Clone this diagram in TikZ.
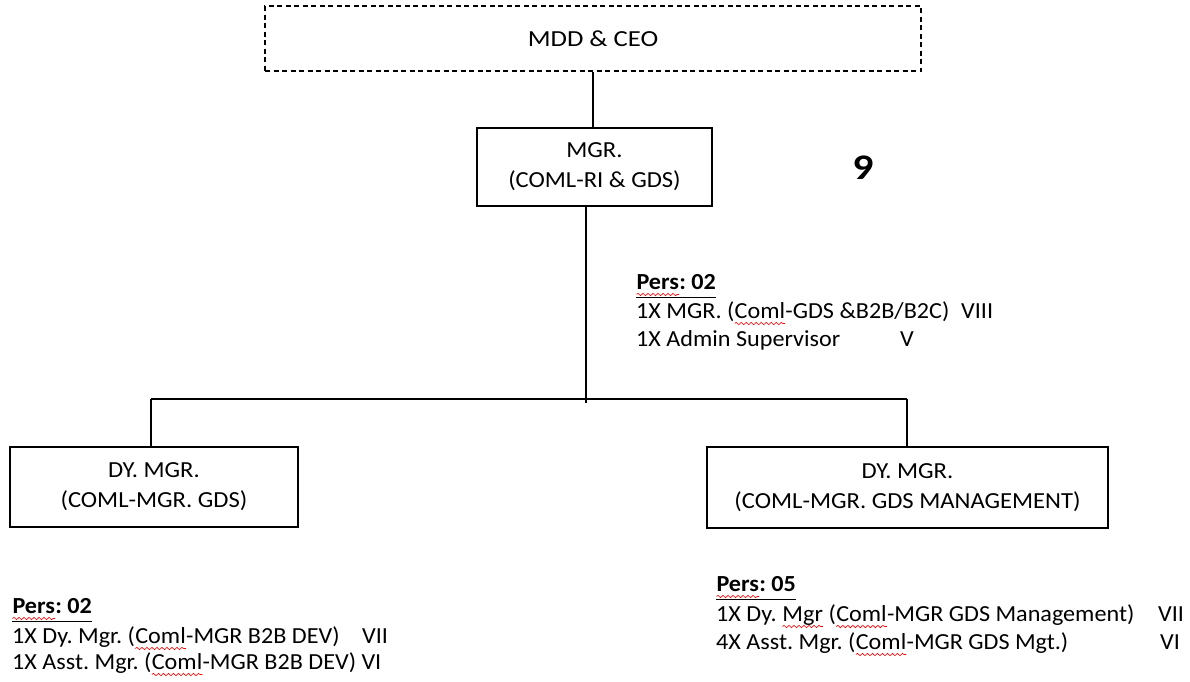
\documentclass[tikz,border=0pt]{standalone}
\usepackage{fontspec}
\setmainfont{Carlito}[FakeStretch=1.05]
\newfontfamily\boxfont{Carlito}[FakeStretch=1.07]
\newfontfamily\widefont{Carlito}[FakeStretch=1.16]
\usetikzlibrary{decorations.pathmorphing}
\frenchspacing
\newcommand\spellerr[1]{\tikz[baseline=(w.base)]{\node[inner sep=0pt, outer sep=0pt] (w) {#1};
  \draw[red, line width=0.6pt, decorate, decoration={snake, amplitude=1.2pt, segment length=5pt}] ([yshift=-5.5pt]w.base west) -- ([yshift=-5.5pt]w.base east);}}
\tikzset{
  box/.style={draw, line width=1.3pt, inner sep=0pt, align=center, font=\boxfont\fontsize{23}{30}\selectfont},
  txt/.style={inner sep=0pt, anchor=base west, font=\fontsize{23}{29}\selectfont},
  link/.style={line width=1.3pt},
}
\begin{document}
\begin{tikzpicture}[x=1pt,y=-1pt]
\useasboundingbox (0,0) rectangle (1190,681);
\node[box, font=\widefont\fontsize{23}{30}\selectfont, dash pattern=on 5pt off 3.5pt, minimum width=656pt, minimum height=65pt] (ceo) at (593,38.5) {MDD \& CEO};
\node[box, minimum width=235pt, minimum height=78pt] (mgr) at (594.5,167) {MGR.\\(COML-RI \& GDS)};
\node[box, minimum width=288pt, minimum height=80pt] (dl) at (154,487) {DY. MGR.\\(COML-MGR. GDS)};
\node[box, minimum width=401pt, minimum height=81pt] (dr) at (907.5,487.5) {DY. MGR.\\(COML-MGR. GDS MANAGEMENT)};
\node[font=\widefont\fontsize{36}{42}\selectfont\bfseries, inner sep=0pt] (nine) at (863,168) {9};

\coordinate (j) at (586,403);
\coordinate (hl) at (151,399);
\coordinate (hr) at (907,399);
\draw[link] (ceo.south) -- (ceo.south |- mgr.north);
\draw[link] (mgr.south -| j) -- (j);
\draw[link] (hl) -- (hr);
\draw[link] (hl) -- (hl |- dl.north);
\draw[link] (hr) -- (hr |- dr.north);

% top staff block
\node[txt] (p1h) at (636,289) {\underline{\textbf{\spellerr{Pers}: 02}}};
\node[txt] (p1a) at (636,318) {1X MGR. (\spellerr{Coml}-GDS \&B2B/B2C)};
\node[txt] (p1ag) at (961,318) {VIII};
\node[txt] (p1b) at (636,346) {1X Admin Supervisor};
\node[txt] (p1bg) at (900,346) {V};

% bottom left block
\node[txt] (p2h) at (12,613) {\underline{\textbf{\spellerr{Pers}: 02}}};
\node[txt] (p2a) at (12,643) {1X Dy. Mgr. (\spellerr{Coml}-MGR B2B DEV)};
\node[txt] (p2ag) at (362,643) {VII};
\node[txt] (p2b) at (12,669) {1X Asst. Mgr. (\spellerr{Coml}-MGR B2B DEV) VI};

% bottom right block
\node[txt] (p3h) at (716,591) {\underline{\textbf{\spellerr{Pers}: 05}}};
\node[txt] (p3a) at (716,621) {1X Dy. \spellerr{Mgr} (\spellerr{Coml}-MGR GDS Management)};
\node[txt] (p3ag) at (1158,621) {VII};
\node[txt] (p3b) at (716,649) {4X Asst. Mgr. (\spellerr{Coml}-MGR GDS Mgt.)};
\node[txt] (p3bg) at (1160,649) {VI};
\end{tikzpicture}
\end{document}
